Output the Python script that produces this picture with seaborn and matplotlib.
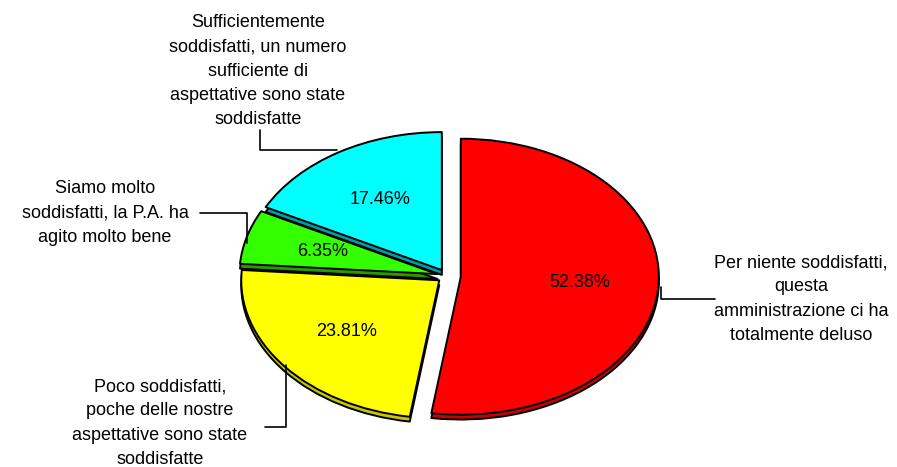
import matplotlib
matplotlib.use("Agg")
import matplotlib.pyplot as plt
from matplotlib.lines import Line2D
import seaborn as sns

# Survey answers and their shares (%)
categories = [
    "Per niente soddisfatti,\nquesta\namministrazione ci ha\ntotalmente deluso",
    "Poco soddisfatti,\npoche delle nostre\naspettative sono state\nsoddisfatte",
    "Siamo molto\nsoddisfatti, la P.A. ha\nagito molto bene",
    "Sufficientemente\nsoddisfatti, un numero\nsufficiente di\naspettative sono state\nsoddisfatte",
]
shares = [52.38, 23.81, 6.35, 17.46]

top_colors = ["#FF0000", "#FFFF00", "#33FF00", "#00FFFF"]
side_colors = ["#C80000", "#C8C800", "#2A9A00", "#009EA8"]
explode = [0.07, 0.05, 0.05, 0.05]

sns.set_theme(style="white")
plt.rcParams["font.family"] = ["Liberation Sans", "DejaVu Sans"]

W, H = 897, 467
fig = plt.figure(figsize=(W / 100, H / 100), dpi=100)
fig.patch.set_facecolor("white")

# Axes sized so the unit pie becomes a flattened ellipse
cx, cy = 447, 276          # pie centre in pixels (from top-left)
rx, ry = 198, 138          # horizontal / vertical radii in pixels
lim = 1.2
aw, ah = 2 * lim * rx, 2 * lim * ry
ax = fig.add_axes([(cx - aw / 2) / W, (H - cy - ah / 2) / H, aw / W, ah / H])

depth = 0.035
edge = dict(edgecolor="black", linewidth=1.4, joinstyle="round")

# side walls: the same pie shifted down, darker
ax.pie(shares, colors=side_colors, explode=explode, startangle=90,
       counterclock=False, center=(0, -depth), wedgeprops=edge)
# top faces with percentage labels
wedges, texts, autotexts = ax.pie(
    shares, colors=top_colors, explode=explode, startangle=90,
    counterclock=False, autopct="%.2f%%", pctdistance=0.6,
    wedgeprops=edge, textprops=dict(fontsize=13, color="black"))

ax.set_aspect("auto")
ax.set_xlim(-lim, lim)
ax.set_ylim(-lim, lim)
ax.axis("off")


def fx(x):
    return x / W


def fy(y):
    return 1 - y / H


# category labels placed around the pie (pixel positions)
label_pos = [(801, 299), (160, 423), (105, 213), (258, 71)]
for text, (x, y) in zip(categories, label_pos):
    fig.text(fx(x), fy(y), text, ha="center", va="center",
             multialignment="center", fontsize=13, linespacing=1.56,
             color="black")

# leader lines from labels to slices
leaders = [
    [(715, 299), (661, 299), (661, 287)],
    [(265, 427), (286, 427), (286, 365)],
    [(200, 213), (247, 213), (247, 243)],
    [(260, 130), (260, 150), (337, 150)],
]
for pts in leaders:
    xs = [fx(p[0]) for p in pts]
    ys = [fy(p[1]) for p in pts]
    fig.add_artist(Line2D(xs, ys, color="black", linewidth=1.2,
                          transform=fig.transFigure))

fig.savefig("out.png", dpi=100, facecolor="white")
